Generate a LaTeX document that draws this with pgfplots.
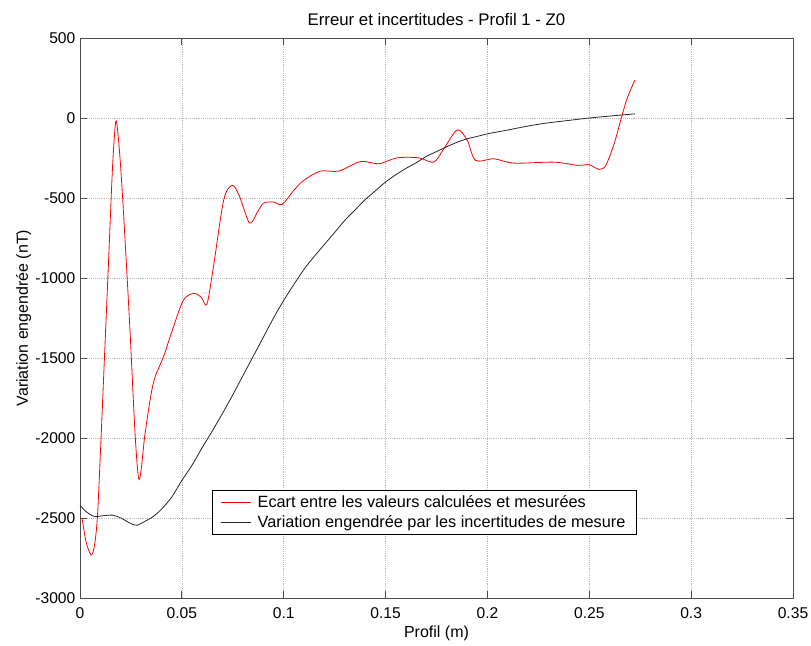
\documentclass[border=0pt]{standalone}
\usepackage{fontspec}
\setmainfont{Liberation Sans}
\usepackage{pgfplots}
\pgfplotsset{compat=1.18}
\begin{document}
\begin{tikzpicture}
\path[use as bounding box] (-60pt,-36pt) rectangle (548.25pt,448.5pt);
\begin{axis}[
  at={(0,0)}, anchor=south west,
  scale only axis, width=534.75pt, height=420pt,
  xmin=0, xmax=0.35, ymin=-3000, ymax=500,
  xtick={0,0.05,0.1,0.15,0.2,0.25,0.3,0.35},
  ytick={-3000,-2500,-2000,-1500,-1000,-500,0,500},
  grid=major,
  grid style={densely dotted, gray!55, line width=0.5pt},
  tick align=inside, major tick length=5pt,
  axis line style={black!70, line width=0.7pt},
  tick style={black!70, line width=0.6pt},
  xticklabel style={/pgf/number format/fixed, /pgf/number format/precision=2, yshift=-4pt},
  /pgf/number format/1000 sep={},
  /pgf/number format/assume math mode=true,
  tick label style={font=\fontsize{11.7}{13}\selectfont, black},
  every axis title shift=0pt,
  title={Erreur et incertitudes - Profil 1 - Z0},
  title style={font=\fontsize{12.6}{14}\selectfont, at={(axis description cs:0.5,1.033)}, anchor=center},
  xlabel={Profil (m)},
  xlabel style={font=\fontsize{12}{14}\selectfont, at={(axis description cs:0.5,-0.0624)}, anchor=center},
  ylabel={Variation engendrée (nT)},
  ylabel style={font=\fontsize{12}{14}\selectfont, at={(axis description cs:-0.079,0.5)}, anchor=center},
  legend cell align=left,
  legend style={at={(axis description cs:0.185,0.1925)}, anchor=north west,
    font=\fontsize{12.2}{14}\selectfont, fill=white,
    inner xsep=6pt, inner ysep=2pt},
  legend image post style={xscale=1.32},
]
\addlegendimage{color=red, line width=0.6pt}
\addlegendentry{\hspace{3pt}Ecart entre les valeurs calculées et mesurées}
\addlegendimage{color=black!85, line width=0.6pt}
\addlegendentry{\hspace{3pt}Variation engendrée par les incertitudes de mesure}
\addplot[red, line width=0.6pt, smooth, tension=0.5, forget plot] coordinates {
(0.001,-2500) (0.003,-2650) (0.0054,-2730) (0.007,-2680) (0.0085,-2503)
(0.010,-2100) (0.012,-1500) (0.014,-900) (0.016,-300) (0.0176,-21)
(0.019,-150) (0.0205,-411) (0.0225,-850) (0.0246,-1343) (0.027,-1966)
(0.0287,-2248) (0.030,-2200) (0.032,-1966) (0.036,-1656) (0.041,-1491)
(0.0459,-1304) (0.0508,-1138) (0.0557,-1096) (0.0595,-1120) (0.0623,-1163)
(0.0655,-930) (0.0705,-515) (0.0746,-421) (0.078,-480) (0.0832,-656)
(0.087,-590) (0.0901,-532) (0.095,-525) (0.0992,-540) (0.1049,-453)
(0.1098,-390) (0.118,-332) (0.127,-332) (0.1377,-272) (0.1467,-286)
(0.1557,-249) (0.1663,-249) (0.1737,-276) (0.1786,-192) (0.1852,-74)
(0.1901,-140) (0.1942,-265) (0.2032,-255) (0.213,-282) (0.2327,-276)
(0.2442,-296) (0.2499,-292) (0.2548,-321) (0.2581,-296) (0.2622,-161)
(0.2663,26) (0.2688,130) (0.2724,238)
};
\addplot[black!85, line width=0.6pt, smooth, forget plot] coordinates {
(0,-2420) (0.003,-2460) (0.007,-2490) (0.012,-2485) (0.016,-2482)
(0.02,-2500) (0.025,-2535) (0.028,-2545) (0.032,-2520) (0.036,-2490)
(0.04,-2445) (0.045,-2370) (0.05,-2265) (0.055,-2170) (0.06,-2060)
(0.065,-1955) (0.07,-1845) (0.075,-1730) (0.08,-1610) (0.085,-1490)
(0.09,-1370) (0.095,-1250) (0.1,-1140) (0.105,-1040) (0.11,-945)
(0.115,-865) (0.12,-790) (0.125,-715) (0.13,-640) (0.135,-575)
(0.14,-510) (0.145,-455) (0.15,-400) (0.155,-355) (0.16,-315)
(0.165,-280) (0.17,-240) (0.175,-210) (0.18,-180) (0.185,-152)
(0.19,-130) (0.195,-115) (0.2,-99) (0.21,-75) (0.22,-50)
(0.23,-30) (0.24,-15) (0.25,0) (0.26,12) (0.2724,26)
};
\end{axis}
\end{tikzpicture}
\end{document}
